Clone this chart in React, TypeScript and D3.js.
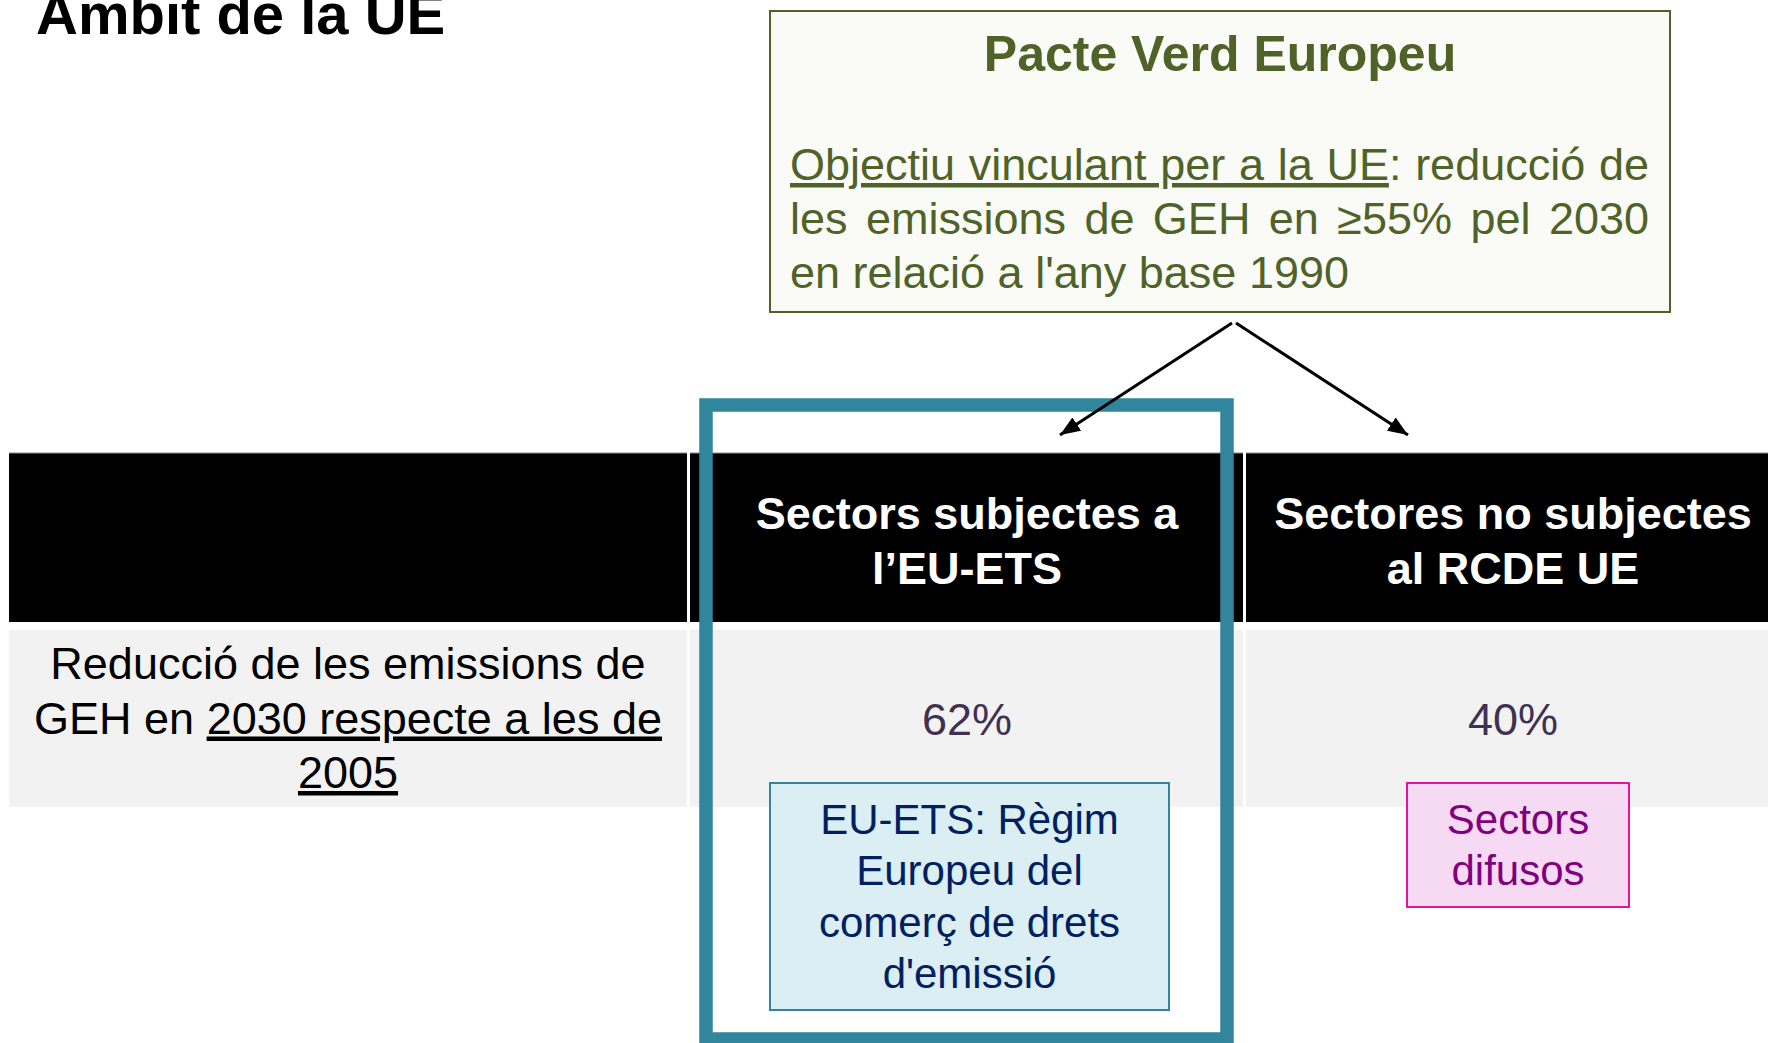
import React, { useEffect, useRef } from "react";
import * as d3 from "d3";

const W = 1768;
const H = 1043;
const FONT = "'Liberation Sans', Arial, Helvetica, sans-serif";

// ---- content ----
const pageTitle = "Àmbit de la UE";

const pacteTitle = "Pacte Verd Europeu";
type Seg = { t: string; u?: boolean };
const pacteLines: Seg[][] = [
  [{ t: "Objectiu vinculant per a la UE", u: true }, { t: ": reducció de" }],
  [{ t: "les emissions de GEH en ≥55% pel 2030" }],
  [{ t: "en relació a l'any base 1990" }],
];
const pacteJustify = [true, true, false];

const rowLabelLines: Seg[][] = [
  [{ t: "Reducció de les emissions de" }],
  [{ t: "GEH en " }, { t: "2030 respecte a les de", u: true }],
  [{ t: "2005", u: true }],
];

const sectorKeys = ["ets", "nonEts"];
const sectorHeaders = [
  ["Sectors subjectes a", "l’EU-ETS"],
  ["Sectores no subjectes", "al RCDE UE"],
];
const reductionPct = [62, 40];
const sectorNotes = [
  ["EU-ETS: Règim", "Europeu del", "comerç de drets", "d'emissió"],
  ["Sectors", "difusos"],
];

// ---- styles ----
const OLIVE = "#4f6228";
const TEAL = "#31859c";
const VALUE_COLOR = "#403152";
const noteStyles = [
  { fill: "#dbeef4", stroke: TEAL, color: "#002060" },
  { fill: "#f6daf3", stroke: "#e0179e", color: "#800080" },
];

export default function App() {
  const ref = useRef<SVGSVGElement>(null);

  useEffect(() => {
    document.body.style.margin = "0";
    document.body.style.overflow = "hidden";
    const svg = d3.select(ref.current as SVGSVGElement);
    svg.selectAll("*").remove();

    const addText = (
      g: d3.Selection<any, any, any, any>,
      x: number,
      y: number,
      segs: Seg[],
      size: number,
      color: string,
      anchor: string,
      weight = "normal"
    ) => {
      const t = g
        .append("text")
        .attr("x", x)
        .attr("y", y)
        .attr("font-family", FONT)
        .attr("font-size", size)
        .attr("font-weight", weight)
        .attr("fill", color)
        .attr("text-anchor", anchor)
        .style("white-space", "pre");
      segs.forEach((s) => {
        t.append("tspan")
          .text(s.t)
          .style("text-decoration", s.u ? "underline" : null);
      });
      return t;
    };

    // defs: arrow marker
    const defs = svg.append("defs");
    defs
      .append("marker")
      .attr("id", "arrowHead")
      .attr("viewBox", "0 0 20 16")
      .attr("refX", 20)
      .attr("refY", 8)
      .attr("markerWidth", 20)
      .attr("markerHeight", 16)
      .attr("markerUnits", "userSpaceOnUse")
      .attr("orient", "auto")
      .append("path")
      .attr("d", "M0,0 L20,8 L0,16 Z")
      .attr("fill", "#000");

    // title
    addText(svg, 36, 34, [{ t: pageTitle }], 58, "#000", "start", "bold");

    // Pacte Verd box
    const box = { x: 770, y: 11, w: 900, h: 301 };
    svg
      .append("rect")
      .attr("x", box.x)
      .attr("y", box.y)
      .attr("width", box.w)
      .attr("height", box.h)
      .attr("fill", "#fafbf6")
      .attr("stroke", OLIVE)
      .attr("stroke-width", 2);
    addText(svg, box.x + box.w / 2, 71, [{ t: pacteTitle }], 50, OLIVE, "middle", "bold");

    const bodyX = 790;
    const bodyW = 859;
    const lineY = d3.scaleLinear().domain([0, 1]).range([180, 234]);
    pacteLines.forEach((segs, i) => {
      const t = addText(svg, bodyX, lineY(i), segs, 45, OLIVE, "start");
      if (pacteJustify[i]) {
        const node = t.node() as SVGTextElement;
        const len = node.getComputedTextLength();
        const full = segs.map((s) => s.t).join("");
        const spaces = (full.match(/ /g) || []).length;
        if (spaces > 0) t.attr("word-spacing", (bodyW - len) / spaces);
      }
    });

    // arrows
    const apex = { x: 1234, y: 323 };
    const colCenter = d3.scaleOrdinal<string, number>().domain(sectorKeys).range([967, 1513]);
    const arrowTip = d3.scaleOrdinal<string, number>().domain(sectorKeys).range([1060, 1408]);

    // table
    const headerY = 453;
    const headerH = 169;
    const rowY = 630;
    const rowH = 177;
    const colSpans = [
      [9, 687],
      [690, 1243],
      [1246, 1790],
    ];
    colSpans.forEach(([x0, x1]) => {
      svg
        .append("rect")
        .attr("x", x0)
        .attr("y", headerY)
        .attr("width", x1 - x0)
        .attr("height", headerH)
        .attr("fill", "#000");
      svg
        .append("line")
        .attr("x1", x0)
        .attr("x2", x1)
        .attr("y1", headerY)
        .attr("y2", headerY)
        .attr("stroke", "#8c8c8c")
        .attr("stroke-width", 1);
      svg
        .append("rect")
        .attr("x", x0)
        .attr("y", rowY)
        .attr("width", x1 - x0)
        .attr("height", rowH)
        .attr("fill", "#f2f2f2");
    });

    const headLineY = d3.scaleLinear().domain([0, 1]).range([529, 584]);
    sectorKeys.forEach((k, i) => {
      sectorHeaders[i].forEach((ln, j) => {
        addText(svg, colCenter(k), headLineY(j), [{ t: ln }], 45, "#fff", "middle", "bold");
      });
      addText(svg, colCenter(k), 735, [{ t: `${reductionPct[i]}%` }], 45, VALUE_COLOR, "middle");
    });

    const labelY = d3.scaleLinear().domain([0, 1]).range([679, 733.5]);
    rowLabelLines.forEach((segs, i) => {
      addText(svg, 348, labelY(i), segs, 45, "#000", "middle");
    });

    // note boxes
    const noteBoxes = [
      { x: 770, y: 783, w: 399, h: 227 },
      { x: 1407, y: 783, w: 222, h: 124 },
    ];
    const noteLineY = d3.scaleLinear().domain([0, 1]).range([834, 885.3]);
    sectorKeys.forEach((k, i) => {
      const b = noteBoxes[i];
      const st = noteStyles[i];
      svg
        .append("rect")
        .attr("x", b.x)
        .attr("y", b.y)
        .attr("width", b.w)
        .attr("height", b.h)
        .attr("fill", st.fill)
        .attr("stroke", st.stroke)
        .attr("stroke-width", 2);
      sectorNotes[i].forEach((ln, j) => {
        addText(svg, b.x + b.w / 2, noteLineY(j), [{ t: ln }], 42, st.color, "middle");
      });
    });

    // teal highlight
    svg
      .append("rect")
      .attr("x", 706)
      .attr("y", 405)
      .attr("width", 521)
      .attr("height", 634)
      .attr("fill", "none")
      .attr("stroke", TEAL)
      .attr("stroke-width", 13.5);

    // arrows on top
    sectorKeys.forEach((k, i) => {
      svg
        .append("line")
        .attr("x1", apex.x + (i === 0 ? -2 : 2))
        .attr("y1", apex.y)
        .attr("x2", arrowTip(k))
        .attr("y2", 435)
        .attr("stroke", "#000")
        .attr("stroke-width", 3)
        .attr("marker-end", "url(#arrowHead)");
    });
  }, []);

  return (
    <svg
      ref={ref}
      width={W}
      height={H}
      style={{ position: "absolute", left: 0, top: 0, display: "block", background: "#fff" }}
    />
  );
}
